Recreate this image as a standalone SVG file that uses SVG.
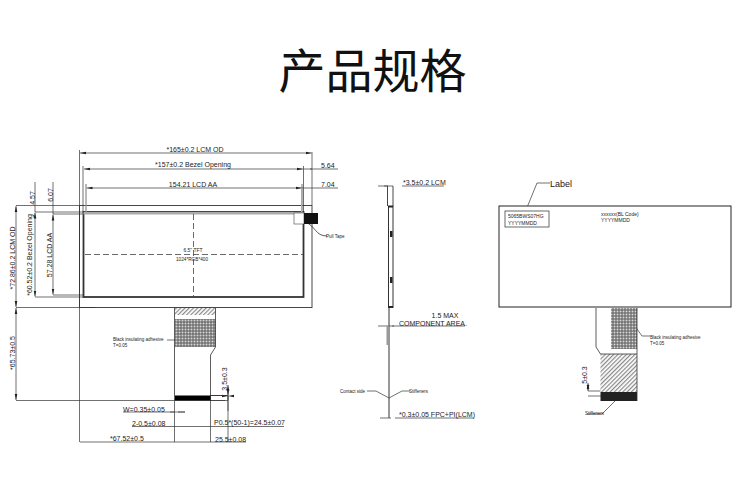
<svg xmlns="http://www.w3.org/2000/svg" width="750" height="500" viewBox="0 0 750 500">
<style>
text{font-family:"Liberation Sans",Arial,sans-serif;fill:#222}
.t{font-size:7px}.s{font-size:4.5px}.m{font-size:6.5px}
.l{fill:none;stroke:#333;stroke-width:.7}
.g{fill:none;stroke:#555;stroke-width:1}
.b{fill:none;stroke:#444;stroke-width:1.6}
.d{fill:none;stroke:#444;stroke-width:.8;stroke-dasharray:6 3}
.a{fill:none;stroke:#333;stroke-width:.7;marker-start:url(#ms);marker-end:url(#me)}
</style>
<defs>
<marker id="me" markerWidth="6" markerHeight="4" refX="6" refY="2" orient="auto" markerUnits="userSpaceOnUse"><path d="M0 .7L6 2L0 3.3z" fill="#222"/></marker>
<marker id="ms" markerWidth="6" markerHeight="4" refX="0" refY="2" orient="auto" markerUnits="userSpaceOnUse"><path d="M6 .7L0 2L6 3.3z" fill="#222"/></marker>
<pattern id="dot" width="3" height="3" patternUnits="userSpaceOnUse"><rect width="3" height="3" fill="#999"/><circle cx="1" cy="1" r=".7" fill="#444"/><circle cx="2.5" cy="2.5" r=".5" fill="#eee"/></pattern>
<pattern id="hat" width="3" height="3" patternUnits="userSpaceOnUse" patternTransform="rotate(45)"><rect width="3" height="3" fill="#fff"/><rect width="1.2" height="3" fill="#888"/></pattern>
</defs>
<g id="title"><text x="372.500" y="88" text-anchor="middle" style="font-family:'Noto Sans CJK SC','Noto Sans CJK JP',sans-serif;font-size:47px;fill:#111">产品规格</text></g>
<g id="connectors">
<path class="l" d="M79.500 150V442M312 152V205M83 166V212M303.500 166V212M86 184V212M302 184V212"/>
<path class="a" d="M80 153H311.500"/>
<path class="a" d="M84 169H303"/>
<path class="l" d="M303.500 169H338M312 169h-2"/>
<path class="a" d="M86.500 188H302"/>
<path class="l" d="M302 188H338"/>
<path class="l" d="M16 205.500H79M35 212H84M53 214H84M35 297H84M53 295H84M16 307.500H95"/>
<path class="a" d="M16 206V307"/>
<path class="a" d="M35 212.500V296.500"/>
<path class="a" d="M53 214.500V294.500"/>
<path class="l" d="M35 182V212M53 182V214"/>
<path class="a" d="M16 308V400"/>
<path class="l" d="M16 400.500H225"/>
<path class="l" d="M210 395.500H228M210 400.500h18M228 395.500V400M228 396H228M227 395.500"/>
<path class="a" d="M228 396H228"/>
<path class="l" d="M228 395.500V442M174.500 400V442M210.500 400V442"/>
<path class="l" d="M210 395.500H228M210.500 395.500H228"/>
<path class="l" d="M123 412H185M170 412H174.500M178 412H185"/>
<path class="l" d="M132 426.500H284M124 412"/>
<path class="l" d="M80 442H246"/>
<path class="a" d="M228 385V395"/>
<path class="l" d="M228 391V411"/>
<path class="l" d="M303 168"/>
<path class="l" d="M305 222C316 226 315 236 327 236" style="stroke-width:.8"/>
<path class="l" d="M167 340H176L186 330" />
<path class="l" d="M168 342"/>
<path class="l" d="M120 312"/>
<path class="l" d="M378 186H393M402 186H444M384 186H388"/>
<path class="l" d="M378 326H394M392 326H465M378 326"/>
<path class="l" d="M380 418H391M395 418H474"/>
<path class="l" d="M367 391H376L389 398L402 391H410"/>
<path class="l" d="M550 183H537L526 210"/>
<path class="l" d="M650 336H642L632 322M645 336"/>
<path class="l" d="M587 414H602L618 398" transform="translate(0 0)"/>
<path class="l" d="M588 391H603M588 396H603"/>
<path class="a" d="M588 383V391"/>
</g>
<g id="lcm-front">
<rect class="l" x="79.500" y="205.500" width="232.500" height="102" style="stroke-width:.9"/>
<rect x="83.500" y="212" width="220" height="85" fill="none" stroke="#333" stroke-width="1.800"/>
<rect x="83.500" y="212" width="220" height="2.500" fill="#aaa"/>
<rect x="85.500" y="188" width="1" height="24" fill="#bbb"/>
<rect x="301" y="188" width="1.500" height="24" fill="#aaa"/>
<path class="d" d="M85 254.500H303M193.500 214V296"/>
<rect x="294" y="213" width="10" height="11" fill="#fff" stroke="#444" stroke-width=".6"/>
<rect x="304" y="213" width="14" height="11" fill="#111"/>
<text class="s" x="326" y="238">Pull Tape</text>
<text class="s" x="193" y="252" text-anchor="middle" style="font-size:5px">6.5" TFT</text>
<text class="s" x="192" y="261" text-anchor="middle" style="font-size:4.700px">1024*RGB*400</text>
</g>
<g id="fpc-front">
<rect x="175" y="308" width="40.500" height="7" fill="url(#hat)"/>
<rect x="175" y="319" width="40.500" height="28" fill="url(#dot)"/>
<path class="l" d="M174.500 308V400M215.500 308V347L210.500 355V400" style="stroke-width:.8"/>
<rect x="175" y="395.500" width="35.500" height="5" fill="#000"/>
<text class="s" x="113" y="341" style="font-size:4.500px">Black insulating adhesive</text>
<text class="s" x="113" y="347">T=0.05</text>
</g>
<g id="dims-text">
<text class="t" x="195" y="152" text-anchor="middle">*165±0.2 LCM OD</text>
<text class="t" x="193" y="167" text-anchor="middle">*157±0.2 Bezel Opening</text>
<text class="t" x="193" y="187" text-anchor="middle">154.21 LCD AA</text>
<text class="t" x="321" y="168">5.64</text>
<text class="t" x="321" y="187">7.04</text>
<text class="t" transform="translate(35 198)rotate(-90)" x="0" y="0" text-anchor="middle">4.57</text>
<text class="t" transform="translate(53 195)rotate(-90)" text-anchor="middle">6.07</text>
<text class="t" transform="translate(15 258)rotate(-90)" text-anchor="middle">*72.86±0.2 LCM OD</text>
<text class="t" transform="translate(32 255)rotate(-90)" text-anchor="middle">*60.52±0.2 Bezel Opening</text>
<text class="t" transform="translate(52 255)rotate(-90)" text-anchor="middle">57.28 LCD AA</text>
<text class="t" transform="translate(15 353)rotate(-90)" text-anchor="middle">*65.73±0.5</text>
<text class="t" transform="translate(227 379)rotate(-90)" text-anchor="middle">3.5±0.3</text>
<text class="t" x="123" y="412">W=0.35±0.05</text>
<text class="t" x="132" y="426">2-0.5±0.08</text>
<text class="t" x="214" y="425">P0.5*(50-1)=24.5±0.07</text>
<text class="t" x="110" y="441">*67.52±0.5</text>
<text class="t" x="215" y="442">25.5±0.08</text>
</g>
<g id="lcm-side">
<path class="l" d="M387.500 186V206M393 186V206" style="stroke-width:.9"/>
<rect x="388.500" y="206" width="4.500" height="101.500" fill="#fff" stroke="#333" stroke-width="1"/>
<path d="M388 206h5v1.500h-5zM388 306h5v1.500h-5zM390 231h2.500v6H390zM390 277h2.500v6H390z" fill="#222"/>
<path d="M389 308V418" stroke="#333" stroke-width="1" fill="none"/>
<rect x="386.500" y="326" width="2.500" height="19" fill="#999"/>
<text class="t" x="403" y="185">*3.5±0.2 LCM</text>
<text class="t" x="445" y="318" style="text-anchor:middle">1.5 MAX</text>
<text class="t" x="399" y="326">COMPONENT AREA.</text>
<text class="s" x="340" y="393">Contact side</text>
<text class="s" x="409" y="393">Stiffeners</text>
<text class="t" x="399" y="417">*0.3±0.05 FPC+PI(LCM)</text>
</g>
<g id="lcm-back">
<rect x="499" y="206" width="232" height="101" fill="#fff" stroke="#222" stroke-width="1"/>
<rect x="505" y="211" width="44" height="16" fill="#fff" stroke="#444" stroke-width=".8"/>
<text class="t" x="550" y="187" style="font-size:9px">Label</text>
<text class="s" x="508" y="217.500" style="font-size:5px">5065BWS07HG</text>
<text class="s" x="508" y="224.500" style="font-size:5px">YYYYMMDD</text>
<text class="s" x="601" y="215.500" style="font-size:5px">xxxxxx(BL Code)</text>
<text class="s" x="601" y="221.500" style="font-size:5px">YYYYMMDD</text>
</g>
<g id="fpc-back">
<rect x="611" y="308" width="26" height="41" fill="url(#dot)"/>
<rect x="600.500" y="354" width="36.500" height="38" fill="url(#hat)"/>
<rect x="600.500" y="392" width="36.500" height="9" fill="#222"/>
<path class="l" d="M596 308V347L600.500 354H637M637 308V401" style="stroke-width:.8"/>
<text class="s" x="650" y="339">Black insulating adhesive</text>
<text class="s" x="650" y="345">T=0.05</text>
<text class="s" x="585" y="415">Stiffeners</text>
<text class="t" transform="translate(587 375)rotate(-90)" text-anchor="middle">5±0.3</text>
</g>
</svg>
